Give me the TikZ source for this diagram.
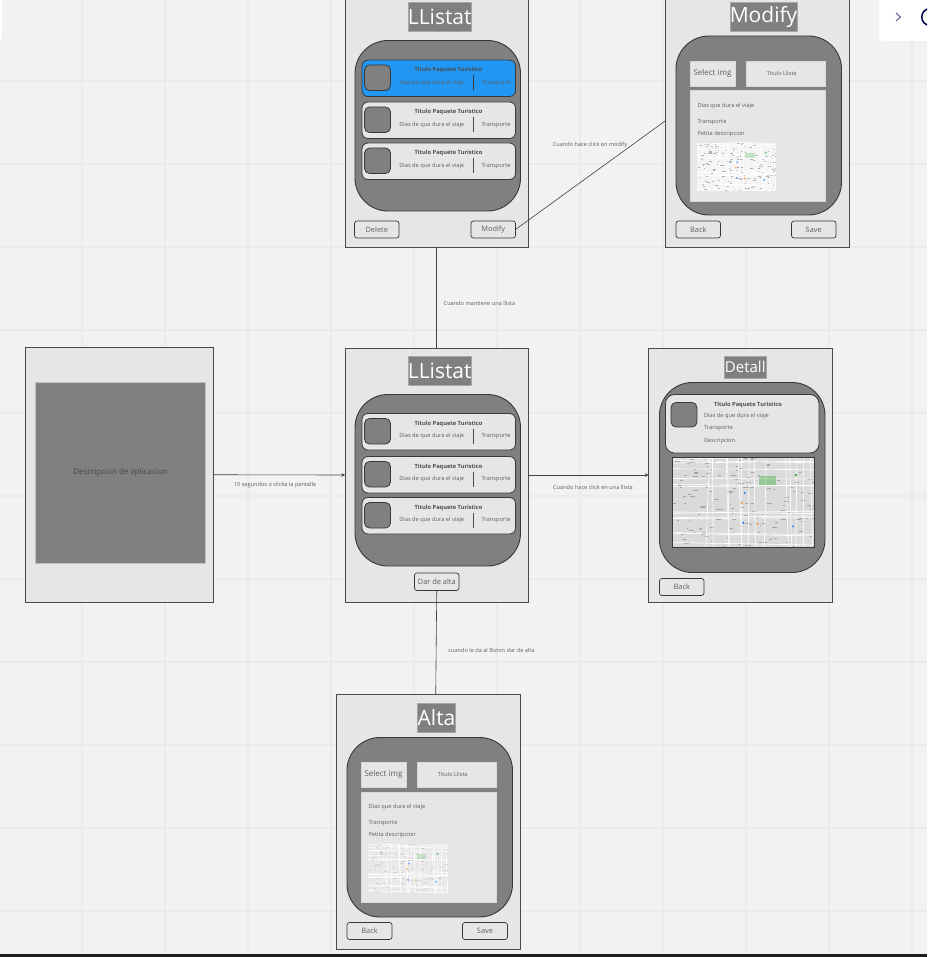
\documentclass[tikz,border=0pt]{standalone}
\usepackage{fontspec}
\setmainfont{Open Sans}
\usetikzlibrary{arrows.meta}
\definecolor{canvas}{HTML}{F2F2F2}
\definecolor{gridc}{HTML}{EBEBEB}
\definecolor{screenc}{HTML}{E6E6E6}
\definecolor{darkc}{HTML}{808080}
\definecolor{edgec}{HTML}{4A4A4A}
\definecolor{innc}{HTML}{383838}
\definecolor{txtc}{HTML}{5E5E5E}
\definecolor{bluec}{HTML}{2196F3}
\definecolor{barc}{HTML}{1E1E1E}
\definecolor{mapbaseA}{HTML}{F4F4F4}
\definecolor{mapbaseB}{HTML}{DADADA}
\definecolor{mapbaseC}{HTML}{E9E9E9}
\definecolor{speckA}{HTML}{B0B0B0}
\definecolor{speckB}{HTML}{A6A6A6}
\definecolor{speckC}{HTML}{CFCFCF}
\tikzset{
  boxbase/.style={inner sep=0pt,outer sep=0pt,rectangle,align=center},
  screenbox/.style={boxbase,draw=edgec,line width=.9pt,fill=screenc},
  phonebox/.style={boxbase,draw=innc,line width=.9pt,fill=darkc,rounded corners=33pt},
  titlebox/.style={boxbase,draw=gray!70,line width=.5pt,fill=darkc,text=white,font=\fontsize{21}{24}\selectfont},
  rowbox/.style={boxbase,draw=innc,line width=.8pt,fill=screenc,rounded corners=6pt},
  bluerow/.style={rowbox,fill=bluec},
  thumbbox/.style={boxbase,draw=innc,line width=.8pt,fill=darkc,rounded corners=5pt},
  btnbox/.style={boxbase,draw=innc,line width=.7pt,fill=screenc,rounded corners=2.5pt,text=txtc,font=\fontsize{7.4}{9}\selectfont},
  fieldbox/.style={boxbase,draw=black!15,line width=.5pt,fill=screenc,text=txtc},
  bigfield/.style={fieldbox,font=\fontsize{8}{10}\selectfont},
  smallfield/.style={fieldbox,font=\fontsize{5.6}{6}\selectfont},
  rowtitle/.style={inner sep=0pt,outer sep=0pt,yshift=-.8pt,text=black!70,font=\fontsize{5.7}{6}\selectfont\bfseries},
  smalltxt/.style={inner sep=0pt,outer sep=0pt,yshift=-.8pt,text=txtc,font=\fontsize{5.7}{6}\selectfont},
  leftxt/.style={smalltxt,anchor=west},
  edgelabel/.style={inner sep=0pt,outer sep=0pt,yshift=-.8pt,text=txtc,font=\fontsize{5.6}{6}\selectfont},
  link/.style={draw=black!75,line width=.6pt},
  arrowlink/.style={link,-{Stealth[length=3.5pt,width=3.5pt]}},
  gridline/.style={draw=gridc,line width=1.2pt},
}
% name, style, x1, y1, x2, y2, text
\newcommand{\pxbox}[7]{%
  \pgfmathsetmacro{\pxWid}{(#5)-(#3)}\pgfmathsetmacro{\pxHei}{(#6)-(#4)}%
  \pgfmathsetmacro{\pxCx}{((#3)+(#5))/2}\pgfmathsetmacro{\pxCy}{((#4)+(#6))/2}%
  \node[#2,minimum width=\pxWid pt,minimum height=\pxHei pt] (#1) at (\pxCx,\pxCy) {#7};}
% name, top y, style, divider colour
\newcommand{\listrow}[4]{%
  \pxbox{#1}{#3}{362}{#2}{515.5}{#2+36.5}{}%
  \pxbox{#1-th}{thumbbox}{364.5}{#2+5}{390.5}{#2+30.5}{}%
  \node[rowtitle] (#1-t) at (448.5,#2+9.5) {Titulo Paquete Turistico};%
  \node[smalltxt] (#1-d) at (431.7,#2+22) {Dias de que dura el viaje};%
  \node[smalltxt] (#1-m) at (496,#2+22) {Transporte};%
  \coordinate (#1-a) at (473.5,#2+15);%
  \coordinate (#1-b) at (473.5,#2+30.5);%
  \draw[draw=#4,line width=.9pt] (#1-a) -- (#1-b);}
% name, x1, y1, x2, y2, base colour, line colour, speck colour, opacity of colours
\newcommand{\fakemap}[9]{%
  \pgfmathsetmacro{\mapW}{#4-#2}\pgfmathsetmacro{\mapH}{#5-#3}%
  \pxbox{#1}{boxbase,fill=#6}{#2}{#3}{#4}{#5}{}%
  \begin{scope}
    \clip (#2,#3) rectangle (#4,#5);
    \pgfmathsetseed{42}
    \foreach \i in {1,...,160}{
      \pgfmathsetmacro{\mapX}{#2+rnd*\mapW}\pgfmathsetmacro{\mapY}{#3+rnd*\mapH}\pgfmathsetmacro{\mapL}{1+rnd*.03*\mapW}
      \fill[#8] (\mapX,\mapY) rectangle ++(\mapL,.7);
    }
    \foreach \i in {1,...,14}{
      \pgfmathsetmacro{\mapXa}{#2+rnd*\mapW}\pgfmathsetmacro{\mapXb}{\mapXa+(rnd-.5)*8}
      \draw[draw=#7,line width=.6pt] (\mapXa,#3) -- (\mapXb,#5);
      \pgfmathsetmacro{\mapYa}{#3+rnd*\mapH}\pgfmathsetmacro{\mapYb}{\mapYa+(rnd-.5)*6}
      \draw[draw=#7,line width=.6pt] (#2,\mapYa) -- (#4,\mapYb);
    }
    \fill[green!60!black,opacity=#9*.3] (#2+.61*\mapW,#3+.31*\mapH) rectangle ++(.12*\mapW,-.1*\mapH);
    \fill[green!60!black,opacity=#9*.7] (#2+.87*\mapW,#3+.2*\mapH) circle (1.3pt);
    \fill[orange,opacity=#9*.8] (#2+.49*\mapW,#3+.51*\mapH) circle (1.2pt);
    \fill[orange,opacity=#9*.8] (#2+.6*\mapW,#3+.74*\mapH) circle (1.2pt);
    \fill[blue!60!cyan,opacity=#9*.8] (#2+.5*\mapW,#3+.73*\mapH) circle (1.1pt);
    \fill[blue!60!cyan,opacity=#9*.8] (#2+.85*\mapW,#3+.77*\mapH) circle (1.1pt);
    \fill[blue!60!cyan,opacity=#9*.8] (#2+.51*\mapW,#3+.4*\mapH) circle (1.1pt);
  \end{scope}}
\begin{document}
\begin{tikzpicture}[x=1pt,y=-1pt]
\useasboundingbox (0,0) rectangle (927,957);
\clip (0,0) rectangle (927,957);
\fill[canvas] (0,0) rectangle (927,957);
\foreach \g in {82,165,248,331,414,497,580,663,746,829,912}{\draw[gridline] (\g,0) -- (\g,957);}
\foreach \g in {81,164,247,330,413,496,579,662,745,828,911}{\draw[gridline] (0,\g) -- (927,\g);}

% editor chrome
\fill[white,rounded corners=4pt] (879,-10) rectangle (940,41);
\fill[white,rounded corners=4pt] (-10,-10) rectangle (2,41);
\draw[draw=black!35!blue!25!gray,line width=1pt] (896,13) -- (900.5,17) -- (896,21);
\draw[draw=black!70!blue,line width=1.5pt] (930.2,17) circle (8.5pt);
\fill[barc] (0,954) rectangle (927,957);

% splash
\pxbox{splash}{screenbox}{25.5}{347.5}{213.5}{602}{}
\pxbox{splashin}{boxbase,draw=black!25,line width=.5pt,fill=darkc,text=black!72,font=\fontsize{8}{10}\selectfont}{35.5}{382.5}{205.5}{563}{\raisebox{-.5pt}{Descripcion de aplicacion}}

% top list
\pxbox{top}{screenbox}{345}{-6}{528}{247.5}{}
\pxbox{toptitle}{titlebox}{408.5}{2}{471}{31}{LListat}
\pxbox{topin}{phonebox}{355}{40.5}{520.5}{211}{}
\listrow{ta}{60}{bluerow}{innc}
\listrow{tb}{102}{rowbox}{edgec}
\listrow{tc}{143}{rowbox}{edgec}
\pxbox{del}{btnbox}{354.5}{221}{399}{238}{Delete}
\pxbox{mod}{btnbox}{471}{221}{515.5}{238}{Modify}

% modify screen
\pxbox{modf}{screenbox}{665.5}{-6}{849}{247.5}{}
\pxbox{modtitle}{titlebox}{730}{2}{797}{31}{\raisebox{-1pt}{Modify}}
\pxbox{modin}{phonebox}{676}{36}{841.5}{215}{}
\pxbox{modsel}{bigfield}{690}{61}{735}{86}{Select img}
\pxbox{modname}{smallfield}{746.5}{61}{825}{86}{\hspace*{-8pt}Titulo Llista}
\pxbox{modpanel}{fieldbox}{690}{90}{825}{201}{}
\node[leftxt] (modt1) at (697.5,105) {Dias que dura el viaje};
\node[leftxt] (modt2) at (697.5,121) {Transporte};
\node[leftxt] (modt3) at (697.5,133) {Petita descripcion};
\fakemap{modmap}{697}{143}{776}{191}{mapbaseA}{white}{speckA}{.7}
\pxbox{modback}{btnbox}{676}{221}{720.5}{238}{Back}
\pxbox{modsave}{btnbox}{791.5}{221}{836}{238}{Save}

% centre list
\pxbox{mid}{screenbox}{345}{348}{528}{602}{}
\pxbox{midtitle}{titlebox}{408.5}{356.5}{471}{385.5}{LListat}
\pxbox{midin}{phonebox}{355}{394.5}{520.5}{566}{}
\listrow{ma}{413.5}{rowbox}{edgec}
\listrow{mb}{456.5}{rowbox}{edgec}
\listrow{mc}{497.5}{rowbox}{edgec}
\pxbox{add}{btnbox}{414.5}{573}{459}{590.5}{Dar de alta}

% detail
\pxbox{det}{screenbox}{648.5}{348}{832.5}{602}{}
\pxbox{dettitle}{titlebox,font=\fontsize{15}{18}\selectfont}{724.5}{356.5}{766}{378}{Detall}
\pxbox{detin}{phonebox}{659.5}{382.5}{825}{572.5}{}
\pxbox{detcard}{rowbox,rounded corners=9pt}{665.5}{394.5}{819}{453}{}
\pxbox{detth}{thumbbox}{671}{402.5}{697}{427}{}
\node[rowtitle] (dett0) at (748,404) {Titulo Paquete Turistico};
\node[leftxt] (dett1) at (704,415) {Dias de que dura el viaje};
\node[leftxt] (dett2) at (704,427) {Transporte};
\node[leftxt] (dett3) at (704,440) {Descripcion};
\fakemap{detmap}{672}{457}{814.5}{547}{mapbaseB}{white}{speckB}{1}
\draw[draw=innc,line width=.8pt] (detmap.north west) rectangle (detmap.south east);
\pxbox{detback}{btnbox}{659.5}{578.5}{704}{595.5}{Back}

% alta
\pxbox{alta}{screenbox}{336.5}{694.5}{520.5}{949}{}
\pxbox{altatitle}{titlebox}{417.5}{703}{455.5}{732}{Alta}
\pxbox{altain}{phonebox}{347}{737.5}{512.5}{917}{}
\pxbox{altasel}{bigfield}{361}{762}{406}{787}{Select img}
\pxbox{altaname}{smallfield}{417.5}{762}{496}{787}{\hspace*{-8pt}Titulo Llista}
\pxbox{altapanel}{fieldbox}{361}{792}{496}{902}{}
\node[leftxt] (altat1) at (368.5,806) {Dias que dura el viaje};
\node[leftxt] (altat2) at (368.5,822) {Transporte};
\node[leftxt] (altat3) at (368.5,834) {Petita descripcion};
\fakemap{altamap}{368}{844}{448}{893}{mapbaseC}{white}{speckC}{.6}
\pxbox{altaback}{btnbox}{347}{922.5}{392}{939.5}{Back}
\pxbox{altasave}{btnbox}{462.5}{922.5}{507.5}{939.5}{Save}

% connectors
\coordinate (altaentry) at (435.7,694.5);
\draw[arrowlink] (splash.east) -- (mid.west);
\draw[arrowlink] (mid.east) -- (det.west);
\draw[link] (mid.north) -- (top.south);
\draw[link] (add.south) -- (altaentry);
\draw[link] (mod.east) -- (modf.west);

% connector labels
\node[edgelabel] (l1) at (275,484) {10 segundos o clicka la pantalla};
\node[edgelabel] (l2) at (593,487) {Cuando hace click en una llista};
\node[edgelabel] (l3) at (479.5,302.5) {Cuando mantiene una llista};
\node[edgelabel] (l4) at (491.5,650) {cuando le da al Boton dar de alta};
\node[edgelabel] (l5) at (590,144) {Cuando hace click en modify};
\end{tikzpicture}
\end{document}
